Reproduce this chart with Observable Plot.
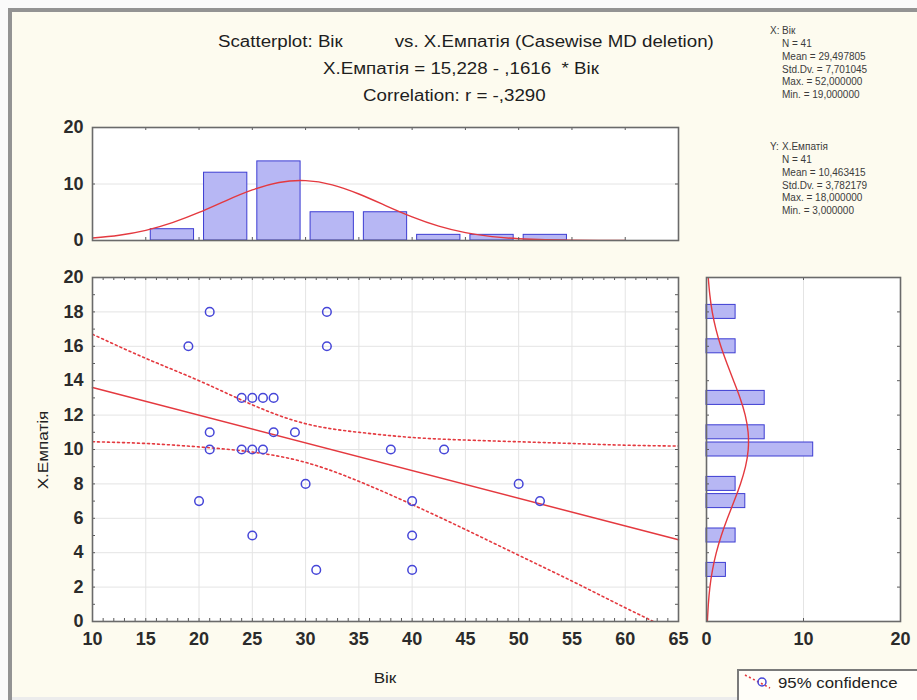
<!DOCTYPE html>
<html><head><meta charset="utf-8">
<script src="https://cdn.jsdelivr.net/npm/d3@7"></script>
<script src="https://cdn.jsdelivr.net/npm/@observablehq/plot@0.6"></script>
<style>
html,body{margin:0;padding:0;background:#fafafa;}
#wrap{position:relative;width:917px;height:700px;overflow:hidden;background:#fafafa;font-family:"Liberation Sans",Arial,sans-serif;}
#cream{position:absolute;left:12px;top:12px;right:0;bottom:0;background:#fdfbef;}
#bl{position:absolute;left:8px;top:8px;width:4px;height:692px;background:#939393;}
#bt{position:absolute;left:8px;top:8px;width:909px;height:4px;background:#939393;}
#bb{position:absolute;left:12px;top:697px;width:905px;height:3px;background:#ececec;}
#wrap svg{position:absolute;left:0;top:0;background:transparent;overflow:visible;}
.t{position:absolute;white-space:pre;}
#legend{position:absolute;left:737px;top:669px;width:200px;height:40px;border:2px solid #7a7a7a;background:#fffef9;box-sizing:border-box;}
</style></head><body>
<div id="wrap"><div id="cream"></div><div id="bl"></div><div id="bt"></div><div id="bb"></div></div>
<script>
// ---------- data ----------
// scatter points (Вік, X.Емпатія)
const ages    = [21,32,19,32,24,25,26,27,21,27,29,21,24,25,26,38,43,20,30,50,52,40,25,40,31,40];
const empathy = [18,18,16,16,13,13,13,13,11,11,11,10,10,10,10,10,10, 7, 8, 8, 7, 7, 5, 5, 3, 3];
// regression line X.Емпатія = 15,228 - ,1616 * Вік (end points read)
const regX = [10, 65];
const regY = [13.6, 4.75];
// 95% confidence band (read)
const bandX     = [10, 15, 20, 25, 30, 35, 40, 45, 50, 55, 60, 65];
const bandUpper = [16.7, 15.3, 14.0, 12.6, 11.5, 11.0, 10.7, 10.55, 10.45, 10.35, 10.25, 10.2];
const bandLower = [10.45, 10.35, 10.15, 9.85, 9.25, 8.15, 6.8, 5.35, 3.85, 2.35, 0.8, -0.7];
// histogram of Вік (bins of 5)
const ageBinStart = [15, 20, 25, 30, 35, 40, 45, 50];
const ageBinEnd   = [20, 25, 30, 35, 40, 45, 50, 55];
const ageBinCount = [2, 12, 14, 5, 5, 1, 1, 1];
// normal curve over the Вік histogram (read)
const ageCurveX = [10,12.5,15,17.5,20,22.5,25,27.5,30,32.5,35,37.5,40,42.5,45,47.5,50,52.5,55,57.5,60];
const ageCurveY = [0.43,0.93,1.8,3.16,4.96,7.03,8.95,10.27,10.6,9.85,8.23,6.19,4.19,2.55,1.4,0.69,0.31,0.12,0.04,0.01,0];
// histogram of X.Емпатія
const empLevels = [3, 5, 7, 8, 10, 11, 13, 16, 18];
const empCounts = [2, 3, 4, 3, 11, 6, 6, 3, 3];
// normal curve over the X.Емпатія histogram (read)
const empCurveLevel = [0,1,2,3,4,5,6,7,8,9,10,11,12,13,14,15,16,17,18,19,20];
const empCurveCount = [0.09,0.19,0.35,0.62,1.01,1.53,2.16,2.85,3.5,4.02,4.3,4.29,3.99,3.46,2.79,2.11,1.48,0.97,0.59,0.34,0.18];
// tick labels
const mainXTicks = [10,15,20,25,30,35,40,45,50,55,60,65];
const mainYTicks = [0,2,4,6,8,10,12,14,16,18,20];
const histYTicks = [0,10,20];
const sideXTicks = [0,10,20];
// texts
const titleLines = ["Scatterplot: Вік          vs. X.Емпатія (Casewise MD deletion)",
                    "X.Емпатія = 15,228 - ,1616  * Вік",
                    "Correlation: r = -,3290"];
const statsX = ["N = 41","Mean = 29,497805","Std.Dv. = 7,701045","Max. = 52,000000","Min. = 19,000000"];
const statsY = ["N = 41","Mean = 10,463415","Std.Dv. = 3,782179","Max. = 18,000000","Min. = 3,000000"];

// ---------- styling ----------
const W = 917, H = 700;
const RED = "#e4393f", BLUE = "#4646d8", BARFILL = "#b7b7f4", BARSTROKE = "#3c3cd2";
const GRID = "#e4e4e4", FRAME = "#6a6a6a", TICK = "#5a5a5a", LABEL = "#2b2b2b";
const FONT = "Liberation Sans, Arial, sans-serif";
const wrap = document.getElementById("wrap");
const style = {background: "transparent", fontFamily: FONT, overflow: "visible"};
const labelStyle = {fontSize: 18, fontWeight: 600, fill: LABEL};

function innerTicks(xs, ys, iw, ih, len, opts = {}) {
  const out = [];
  if (xs) {
    out.push(Plot.ruleX(xs, {insetTop: ih - len, stroke: TICK, ...opts}));
    out.push(Plot.ruleX(xs, {insetBottom: ih - len, stroke: TICK, ...opts}));
  }
  if (ys) {
    out.push(Plot.ruleY(ys, {insetRight: iw - len, stroke: TICK, ...opts}));
    out.push(Plot.ruleY(ys, {insetLeft: iw - len, stroke: TICK, ...opts}));
  }
  return out;
}

// ---------- main scatter ----------
{
  const m = {left: 92, right: W - 678, top: 277, bottom: H - 621};
  const iw = W - m.left - m.right, ih = H - m.top - m.bottom;
  const p = Plot.plot({
    width: W, height: H, marginLeft: m.left, marginRight: m.right, marginTop: m.top, marginBottom: m.bottom,
    style, x: {domain: [10, 65]}, y: {domain: [0, 20]},
    marks: [
      Plot.frame({fill: "white", stroke: "none"}),
      Plot.ruleX(d3.range(15, 65, 5), {stroke: GRID}),
      Plot.ruleY(d3.range(2, 20, 2), {stroke: GRID}),
      Plot.line(bandX, {x: bandX, y: bandUpper, curve: "natural", stroke: RED, strokeWidth: 1.6, strokeDasharray: "2,3", clip: true}),
      Plot.line(bandX, {x: bandX, y: bandLower, curve: "natural", stroke: RED, strokeWidth: 1.6, strokeDasharray: "2,3", clip: true}),
      Plot.line(regX, {x: regX, y: regY, stroke: RED, strokeWidth: 1.5}),
      Plot.dot(ages, {x: ages, y: empathy, r: 4.3, stroke: BLUE, strokeWidth: 1.5, fill: "none"}),
      ...innerTicks(d3.range(11, 65, 1), d3.range(1, 20, 1), iw, ih, 3),
      Plot.frame({stroke: FRAME, strokeWidth: 1.6}),
      Plot.axisX(mainXTicks, {tickSize: 0, tickPadding: 11, label: null, ...labelStyle}),
      Plot.axisY(mainYTicks, {tickSize: 0, tickPadding: 9, label: null, ...labelStyle})
    ]
  });
  wrap.appendChild(p);
}

// ---------- top histogram (Вік) ----------
{
  const m = {left: 92, right: W - 678, top: 127, bottom: H - 240};
  const iw = W - m.left - m.right, ih = H - m.top - m.bottom;
  const p = Plot.plot({
    width: W, height: H, marginLeft: m.left, marginRight: m.right, marginTop: m.top, marginBottom: m.bottom,
    style, x: {domain: [10, 65], axis: null}, y: {domain: [0, 20]},
    marks: [
      Plot.frame({fill: "white", stroke: "none"}),
      Plot.ruleY([10], {stroke: GRID}),
      Plot.rect(ageBinCount, {x1: ageBinStart, x2: ageBinEnd, y1: 0, y2: ageBinCount, insetLeft: 5, insetRight: 5,
        fill: BARFILL, stroke: BARSTROKE, strokeWidth: 1}),
      Plot.line(ageCurveX, {x: ageCurveX, y: ageCurveY, curve: "natural", stroke: RED, strokeWidth: 1.4, clip: true}),
      ...innerTicks(d3.range(15, 65, 5), [10], iw, ih, 3),
      Plot.frame({stroke: FRAME, strokeWidth: 1.6}),
      Plot.axisY(histYTicks, {tickSize: 0, tickPadding: 9, label: null, ...labelStyle})
    ]
  });
  wrap.appendChild(p);
}

// ---------- right histogram (X.Емпатія) ----------
{
  const m = {left: 706, right: W - 900, top: 277, bottom: H - 621};
  const iw = W - m.left - m.right, ih = H - m.top - m.bottom;
  const p = Plot.plot({
    width: W, height: H, marginLeft: m.left, marginRight: m.right, marginTop: m.top, marginBottom: m.bottom,
    style, x: {domain: [0, 20]}, y: {domain: [0, 20], axis: null},
    marks: [
      Plot.frame({fill: "white", stroke: "none"}),
      Plot.ruleX([10], {stroke: GRID}),
      Plot.rect(empCounts, {x1: 0, x2: empCounts, y1: empLevels.map(v => v - 0.5), y2: empLevels.map(v => v + 0.5),
        insetTop: 1.6, insetBottom: 1.6, fill: BARFILL, stroke: BARSTROKE, strokeWidth: 1}),
      Plot.line(empCurveLevel, {x: empCurveCount, y: empCurveLevel, curve: "natural", stroke: RED, strokeWidth: 1.4, clip: true}),
      ...innerTicks([10], d3.range(2, 20, 2), iw, ih, 3),
      Plot.frame({stroke: FRAME, strokeWidth: 1.6}),
      Plot.axisX(sideXTicks, {tickSize: 0, tickPadding: 11, label: null, ...labelStyle})
    ]
  });
  wrap.appendChild(p);
}

// ---------- texts ----------
function addText(str, x, y, size, {scale = 1, weight = "normal", color = "#222", rotate = 0, anchor = "start"} = {}) {
  const d = document.createElement("div");
  d.className = "t";
  d.textContent = str;
  d.style.fontSize = size + "px";
  d.style.lineHeight = size + "px";
  d.style.fontWeight = weight;
  d.style.color = color;
  d.style.left = x + "px";
  d.style.top = y + "px";
  if (anchor === "middle") {
    d.style.transformOrigin = "50% 50%";
    d.style.transform = `translate(-50%,-50%) rotate(${rotate}deg) scaleX(${scale})`;
  } else {
    d.style.transformOrigin = "0 50%";
    d.style.transform = `translate(0,-50%) rotate(${rotate}deg) scaleX(${scale})`;
  }
  wrap.appendChild(d);
  return d;
}
addText(titleLines[0], 218, 42, 16, {scale: 1.17, color: "#1e1e1e"});
addText(titleLines[1], 323, 69, 16, {scale: 1.17, color: "#1e1e1e"});
addText(titleLines[2], 363, 96, 16, {scale: 1.17, color: "#1e1e1e"});

const SC = "#3c3c3c";
addText("X:", 770, 31, 10, {color: SC});
addText("Вік", 782, 31, 10, {color: SC});
statsX.forEach((s, i) => addText(s, 782, 44 + i * 12.8, 10, {color: SC}));
addText("Y:", 770, 147, 10, {color: SC});
addText("X.Емпатія", 782, 147, 10, {color: SC});
statsY.forEach((s, i) => addText(s, 782, 160 + i * 12.8, 10, {color: SC}));

addText("Вік", 385, 677, 15, {scale: 1.14, anchor: "middle", color: "#222"});
addText("X.Емпатія", 42, 450, 15, {scale: 1.14, anchor: "middle", rotate: -90, color: "#222"});

// legend
const lg = document.createElement("div");
lg.id = "legend";
lg.innerHTML = `<svg width="40" height="26" style="position:absolute;left:3px;top:1px;overflow:visible">
<line x1="3" y1="3" x2="28" y2="16" stroke="${RED}" stroke-width="1.6" stroke-dasharray="2,2.5"/>
<circle cx="20" cy="10" r="4" fill="none" stroke="${BLUE}" stroke-width="1.5"/></svg>`;
wrap.appendChild(lg);
addText("95% confidence", 778, 682, 15, {scale: 1.12, color: "#222"});
</script>
</body></html>
